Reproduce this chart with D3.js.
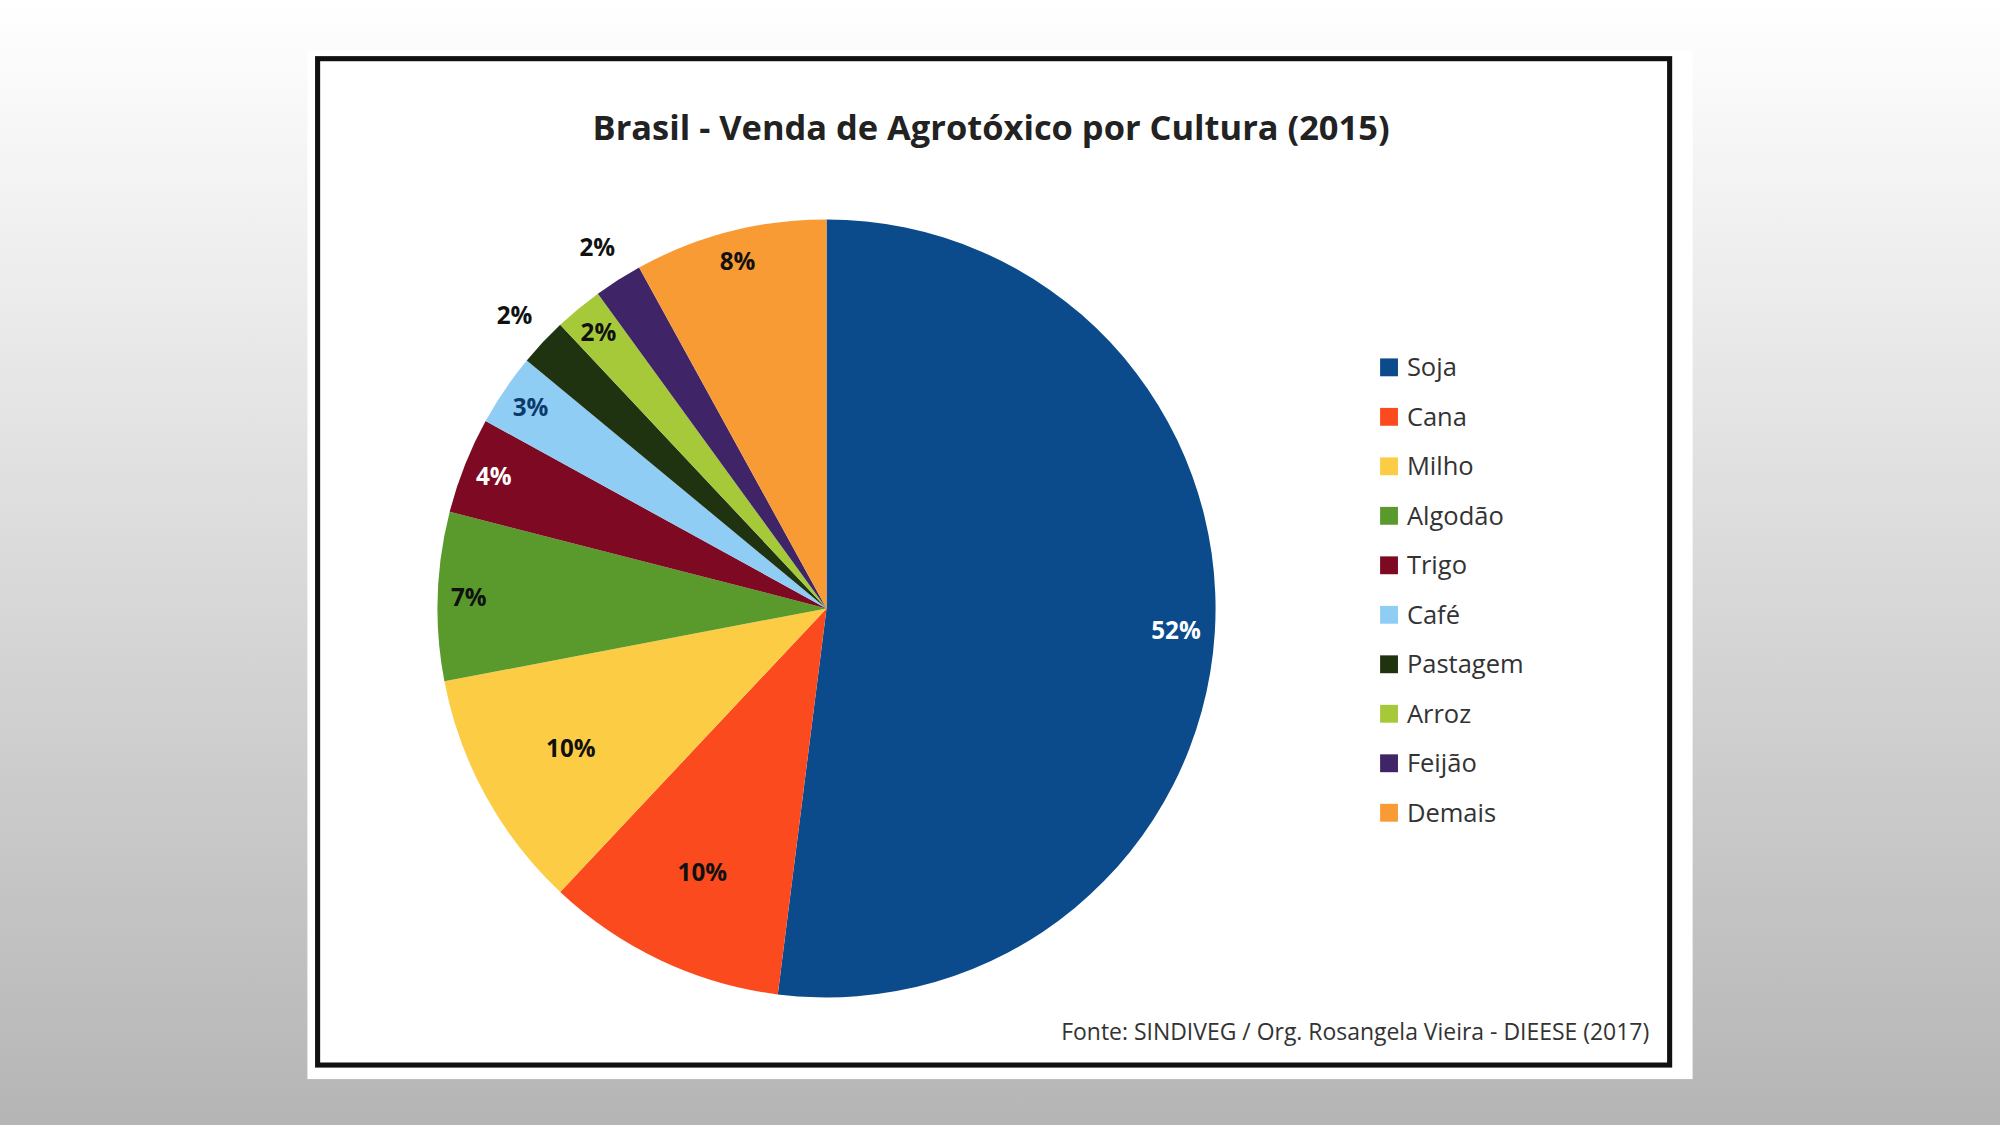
<html lang="pt">
<head>
<meta charset="UTF-8">
<script src="https://d3js.org/d3.v7.min.js"></script>
<style>
  body{margin:0;overflow:hidden;}
  text{font-family:"Open Sans",Lato,sans-serif;}
</style>
<script>
var categories = ["Soja","Cana","Milho","Algodão","Trigo","Café","Pastagem","Arroz","Feijão","Demais"];
var values = [52,10,10,7,4,3,2,2,2,8];
var colors = ["#0b4a8b","#fb4b1e","#fdcc45","#5a9a2c","#7d0a22","#8fcdf5","#1f3310","#a6c93a","#3f2468","#f89b35"];
var labelColors = ["#fff","#111","#111","#111","#fff","#0b3a6b","#111","#111","#111","#111"];

function main(){
  var svg = d3.select("svg");
  var defs = svg.append("defs");
  var grad = defs.append("linearGradient").attr("id","bg").attr("x1",0).attr("y1",0).attr("x2",0).attr("y2",1);
  grad.append("stop").attr("offset","0%").attr("stop-color","#ffffff");
  grad.append("stop").attr("offset","100%").attr("stop-color","#b5b5b5");
  svg.append("rect").attr("width",1568).attr("height",882).attr("fill","url(#bg)");

  svg.append("rect").attr("x",241).attr("y",40).attr("width",1086).attr("height",806).attr("fill","#fff");
  svg.append("rect").attr("x",249).attr("y",46).attr("width",1060).attr("height",789)
     .attr("fill","none").attr("stroke","#111").attr("stroke-width",4);

  svg.append("text").attr("x",777).attr("y",110).attr("text-anchor","middle")
     .attr("font-size",27).attr("font-weight","bold").attr("fill","#222")
     .text("Brasil - Venda de Agrotóxico por Cultura (2015)");

  var r = 305;
  var g = svg.append("g").attr("transform","translate(648,477)");
  var pie = d3.pie().sort(null).value(function(d){return d;});
  var arcs = pie(values);
  var arc = d3.arc().innerRadius(0).outerRadius(r);
  g.selectAll("path").data(arcs).enter().append("path")
    .attr("d",arc).attr("fill",function(d,i){return colors[i];});

  // small slices 6 and 8 get labels outside the pie
  g.selectAll(".lbl").data(arcs).enter().append("text")
    .attr("class","lbl")
    .attr("transform",function(d,i){
      var f = (i==6||i==8) ? 1.1 : (i==0 ? 0.9 : (i>=3 ? 0.92 : 0.75));
      var a = (d.startAngle+d.endAngle)/2;
      return "translate("+(Math.sin(a)*r*f)+","+(-Math.cos(a)*r*f)+")";
    })
    .attr("text-anchor","middle").attr("dy","0.35em")
    .attr("font-size",19).attr("font-weight","bold")
    .attr("fill",function(d,i){return (i==6||i==8)?"#111":labelColors[i];})
    .text(function(d){return d.data+"%";});

  var lg = svg.append("g").attr("transform","translate(1082,288)");
  var row = lg.selectAll("g").data(categories).enter().append("g")
    .attr("transform",function(d,i){return "translate(0,"+(i*38.8)+")";});
  row.append("rect").attr("x",0).attr("y",-7).attr("width",14).attr("height",14)
    .attr("fill",function(d,i){return colors[i];});
  row.append("text").attr("x",21).attr("dy","0.35em").attr("font-size",20).attr("fill","#333")
    .text(function(d){return d;});

  svg.append("text").attr("x",1293).attr("y",815).attr("text-anchor","end")
    .attr("font-size",18).attr("fill","#333")
    .text("Fonte: SINDIVEG / Org. Rosangela Vieira - DIEESE (2017)");
}
</script>
</head>
<body onload="main();">
<svg width="2000" height="1125" viewBox="0 0 1568 882"></svg>
</body>
</html>
